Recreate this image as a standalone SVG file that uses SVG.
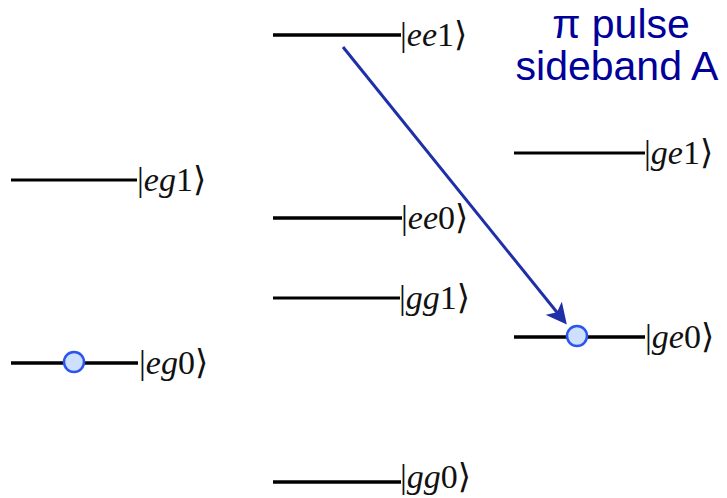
<svg xmlns="http://www.w3.org/2000/svg" width="727" height="498" viewBox="0 0 727 498">
<defs>
<style>
.lvl{stroke:#000;stroke-width:3.5;fill:none}
.thin{stroke-width:3}
.lab{font-family:"Liberation Serif","DejaVu Serif",serif;font-size:34px;fill:#111}
.it{font-style:italic}
.dot{fill:#cfe0ff;stroke:#2a55ee;stroke-width:2.5}
.note{font-family:"Liberation Sans",Arial,sans-serif;font-size:41px;fill:#00009a;text-anchor:middle}
</style>
<marker id="ah" markerWidth="7" markerHeight="7" refX="5.5" refY="3.5" orient="auto" markerUnits="strokeWidth">
<path d="M0,0 L7,3.5 L0,7 L1.8,3.5 Z" fill="#1f2fa8"/>
</marker>
</defs>
<rect width="727" height="498" fill="#fff"/>
<g id="connectors">
<line x1="343" y1="47" x2="564" y2="321" stroke="#1f2fa8" stroke-width="3" marker-end="url(#ah)"/>
</g>
<g id="ee1"><line class="lvl" x1="273" y1="35" x2="401" y2="35" stroke-width="4"/><text class="lab" x="400" y="46">|<tspan class="it">ee</tspan>1⟩</text></g>
<g id="eg1"><line class="lvl thin" x1="11" y1="180" x2="137" y2="180"/><text class="lab" x="137" y="191">|<tspan class="it">eg</tspan>1⟩</text></g>
<g id="ge1"><line class="lvl thin" x1="514" y1="153" x2="645" y2="153"/><text class="lab" x="644" y="164">|<tspan class="it">ge</tspan>1⟩</text></g>
<g id="ee0"><line class="lvl" x1="273" y1="218" x2="402" y2="218" stroke-width="4"/><text class="lab" x="401" y="229">|<tspan class="it">ee</tspan>0⟩</text></g>
<g id="gg1"><line class="lvl thin" x1="273" y1="298" x2="400" y2="298"/><text class="lab" x="399" y="309">|<tspan class="it">gg</tspan>1⟩</text></g>
<g id="eg0"><line class="lvl" x1="11" y1="363" x2="138" y2="363"/><circle class="dot" cx="74" cy="362" r="10"/><text class="lab" x="139" y="374">|<tspan class="it">eg</tspan>0⟩</text></g>
<g id="ge0"><line class="lvl" x1="514" y1="337" x2="645" y2="337"/><circle class="dot" cx="577" cy="336" r="10"/><text class="lab" x="645" y="348">|<tspan class="it">ge</tspan>0⟩</text></g>
<g id="gg0"><line class="lvl" x1="273" y1="482" x2="401" y2="482"/><text class="lab" x="400" y="488" font-size="32">|<tspan class="it">gg</tspan>0⟩</text></g>
<g id="label"><text class="note" x="621" y="38">π pulse</text><text class="note" x="617" y="80">sideband A</text></g>
</svg>
